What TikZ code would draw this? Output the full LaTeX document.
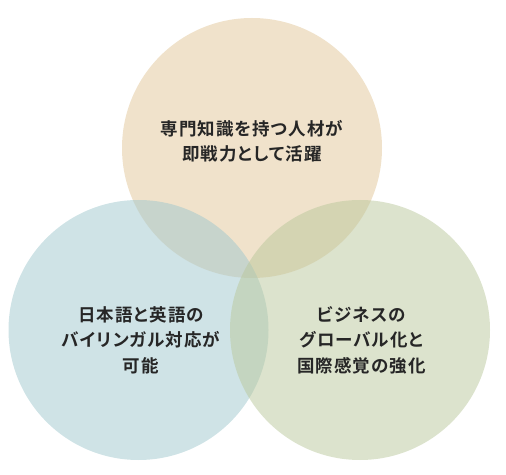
\documentclass[tikz,border=0pt]{standalone}
\usepackage{fontspec}
\newfontfamily\jpfont[BoldFont={Noto Sans CJK JP Bold}, LetterSpace=6, RawFeature=+palt]{Noto Sans CJK JP}
\definecolor{vntop}{RGB}{225, 197, 151}
\definecolor{vnleft}{RGB}{159, 199, 205}
\definecolor{vnright}{RGB}{185, 199, 155}
\definecolor{vntext}{RGB}{38, 38, 38}
\usepackage{tikz}
\usetikzlibrary{positioning}

\begin{document}
\begin{tikzpicture}[x=1pt, y=1pt,
    venn/.style={circle, draw=none, fill opacity=0.5, inner sep=0pt, minimum size=260pt},
    vnlabel/.style={align=center, text=vntext, inner sep=0pt,
      font=\jpfont\bfseries\fontsize{17.5}{25.5}\selectfont}]
  \useasboundingbox (0,0) rectangle (506,474);
  % Circles
  \node[venn, fill=vntop] (top) at (252, 326) {};
  \node[venn, fill=vnleft] (left) at (138.5, 144) {};
  \node[venn, fill=vnright] (right) at (360, 144) {};
  % Labels
  \node[vnlabel] (toptext) at (252, 332.5) {専門知識を持つ人材が\\即戦力として活躍};
  \node[vnlabel] (lefttext) at (141, 134) {日本語と英語の\\バイリンガル対応が\\可能};
  \node[vnlabel] (righttext) at (361.5, 134) {ビジネスの\\グローバル化と\\国際感覚の強化};
\end{tikzpicture}
\end{document}
